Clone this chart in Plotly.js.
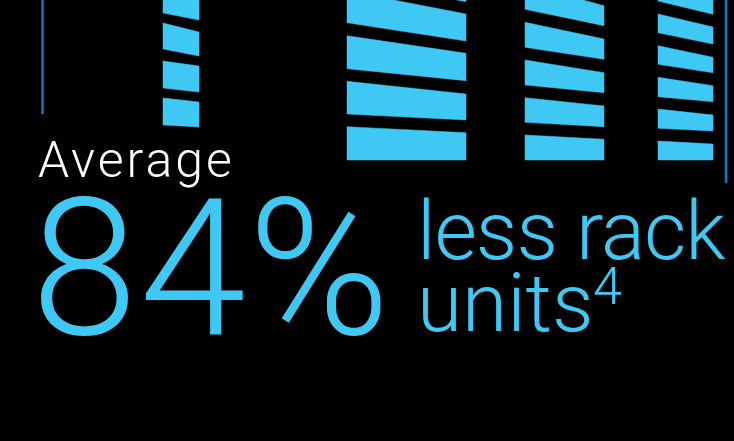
<!DOCTYPE html>
<html>
<head>
<meta charset="utf-8">
<script src="https://cdn.plot.ly/plotly-3.0.1.min.js"></script>
<style>
  html, body { margin: 0; padding: 0; background: #000; }
  #chart { width: 734px; height: 441px; }
</style>
</head>
<body>
<div id="chart"></div>
<script>
// ---- Data (axis units) ----
// Rack columns: horizontal extent of each rack
const rackNames  = ['Rack 1', 'Rack 2', 'Rack 3', 'Rack 4'];
const rackLeft   = [163, 347, 525, 658];
const rackRight  = [199, 466, 604, 713];

// Rack-unit segments: top/bottom level at left and right edge of each rack
const rack1LeftTop  = [-14, 23, 61, 98];
const rack1LeftBot  = [13, 49, 88, 125];
const rack1RightTop = [-5, 32, 66, 102];
const rack1RightBot = [20, 56, 92, 127];

const rack2LeftTop  = [-53, -9, 35.7, 81.3, 126.7];
const rack2LeftBot  = [-21, 22.7, 68.7, 114, 160];
const rack2RightTop = [-25, 14, 53.3, 94, 132.7];
const rack2RightBot = [1.7, 41, 80.7, 120, 160];

const rack3LeftTop  = [-16, 22.3, 60, 97.7, 135];
const rack3LeftBot  = [9.3, 47.3, 85, 122.3, 160];
const rack3RightTop = [5.7, 39, 72.7, 106, 139.3];
const rack3RightBot = [25.7, 59.3, 92.7, 126.7, 160];

const rack4LeftTop  = [-18, 14, 45.7, 77.3, 109, 141];
const rack4LeftBot  = [1, 32.7, 64.3, 96.7, 128.3, 160];
const rack4RightTop = [-3, 27, 57.3, 85.7, 115, 144];
const rack4RightBot = [14.3, 44, 72.7, 101.7, 131, 160];

// Divider lines
const dividerX      = [42.5, 726];
const dividerTop    = [0, 0];
const dividerBottom = [114, 183];

// Texts
const labelTop    = 'Average';
const labelValue  = '84%';
const labelLine1  = 'less rack';
const labelLine2  = 'units';
const labelNote   = '4';

// ---- Build traces ----
const cyan = '#40C8F4';
const lineBlue = '#0C7DC5';

const racks = [
  [rack1LeftTop, rack1LeftBot, rack1RightTop, rack1RightBot],
  [rack2LeftTop, rack2LeftBot, rack2RightTop, rack2RightBot],
  [rack3LeftTop, rack3LeftBot, rack3RightTop, rack3RightBot],
  [rack4LeftTop, rack4LeftBot, rack4RightTop, rack4RightBot]
];

const traces = [];
racks.forEach((r, ri) => {
  const [lt, lb, rt, rb] = r;
  const xs = [], ys = [];
  for (let i = 0; i < lt.length; i++) {
    xs.push(rackLeft[ri], rackRight[ri], rackRight[ri], rackLeft[ri], rackLeft[ri], null);
    ys.push(lt[i], rt[i], rb[i], lb[i], lt[i], null);
  }
  traces.push({
    type: 'scatter', mode: 'lines', name: rackNames[ri],
    x: xs, y: ys, fill: 'toself', fillcolor: cyan,
    line: {color: cyan, width: 0.5}, hoverinfo: 'skip', connectgaps: false
  });
});

dividerX.forEach((x, i) => {
  traces.push({
    type: 'scatter', mode: 'lines',
    x: [x, x], y: [dividerTop[i], dividerBottom[i]],
    line: {color: lineBlue, width: 2.5}, hoverinfo: 'skip'
  });
});

const fontFam = 'Roboto, "Open Sans", sans-serif';
const annotations = [
  {text: labelTop, x: 37, y: 160, xanchor: 'left', yanchor: 'middle', align: 'left',
   font: {family: fontFam, size: 50, color: '#ffffff', weight: 300}},
  {text: labelValue, x: 30, y: 268, xanchor: 'left', yanchor: 'middle', align: 'left',
   font: {family: fontFam, size: 192, color: cyan, weight: 300}},
  {text: labelLine1, x: 416, y: 231, xanchor: 'left', yanchor: 'middle', align: 'left',
   font: {family: fontFam, size: 82, color: cyan, weight: 300}},
  {text: labelLine2, x: 416, y: 303, xanchor: 'left', yanchor: 'middle', align: 'left',
   font: {family: fontFam, size: 82, color: cyan, weight: 300}},
  {text: labelNote, x: 592, y: 286, xanchor: 'left', yanchor: 'middle', align: 'left',
   font: {family: fontFam, size: 52, color: cyan, weight: 300}}
].map(a => Object.assign({xref: 'x', yref: 'y', showarrow: false, borderpad: 0}, a));

const layout = {
  width: 734, height: 441,
  margin: {l: 0, r: 0, t: 0, b: 0, pad: 0},
  paper_bgcolor: '#000000', plot_bgcolor: '#000000',
  showlegend: false,
  xaxis: {range: [0, 734], visible: false, fixedrange: true},
  yaxis: {range: [441, 0], visible: false, fixedrange: true},
  annotations: annotations
};

Plotly.newPlot('chart', traces, layout, {displayModeBar: false, staticPlot: true}).then(() => {
  const spacing = {0: '3px', 1: '2px', 2: '-1px', 3: '0px'};
  Object.keys(spacing).forEach(k => {
    document.querySelectorAll('.annotation[data-index="' + k + '"] .annotation-text')
      .forEach(el => { el.style.letterSpacing = spacing[k]; });
  });
});
</script>
</body>
</html>
